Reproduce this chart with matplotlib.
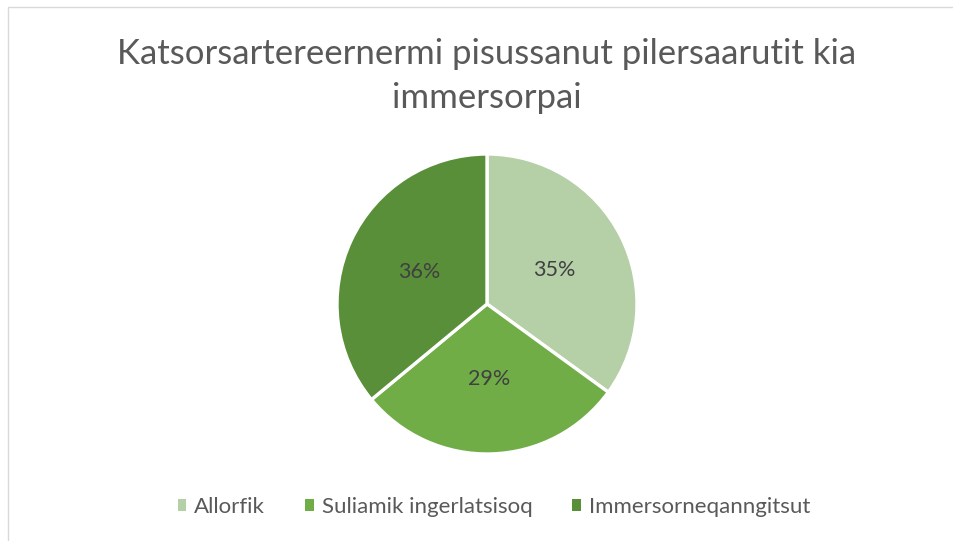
import matplotlib.pyplot as plt
from matplotlib.patches import Rectangle

plt.rcParams['font.family'] = ['Lato', 'DejaVu Sans']

# shares per category
labels = ['Allorfik', 'Suliamik ingerlatsisoq', 'Immersorneqanngitsut']
shares = [35, 29, 36]
colors = ['#b5cfa6', '#70ad47', '#5a8f39']

W, H = 954, 541
fig = plt.figure(figsize=(W / 100, H / 100), dpi=100)

# chart frame (only top and left edges fall inside the image)
fig.patches.append(Rectangle((8 / W, -0.1), 1.2, (H - 7) / H + 0.1, transform=fig.transFigure,
                             fill=False, edgecolor='#d9d9d9', linewidth=1))

fig.text(487 / W, 1 - 76 / H, 'Katsorsartereernermi pisussanut pilersaarutit kia\nimmersorpai',
         ha='center', va='center', fontsize=25, color='#595959', linespacing=1.45)

# pie centred at (487, 304) px, radius 150 px
cx, cy, r = 487, 304, 150
ax = fig.add_axes([(cx - r) / W, (H - cy - r) / H, 2 * r / W, 2 * r / H])
wedges, texts, autotexts = ax.pie(shares, colors=colors, startangle=90, counterclock=False,
                                  autopct='%1.0f%%', pctdistance=0.5,
                                  wedgeprops=dict(edgecolor='white', linewidth=2.4))
for t in autotexts:
    t.set_fontsize(15.5)
    t.set_color('#404040')
ax.set_xlim(-1, 1)
ax.set_ylim(-1, 1)
ax.axis('off')

leg = fig.legend(wedges, labels, loc='center', bbox_to_anchor=(494 / W, 34 / H), ncol=3,
                 frameon=False, fontsize=16, handlelength=0.4, handleheight=0.4,
                 handletextpad=0.35, columnspacing=1.8)
for t in leg.get_texts():
    t.set_color('#595959')
for h in leg.legend_handles:
    h.set_edgecolor('none')

fig.savefig('out.png', dpi=100)
